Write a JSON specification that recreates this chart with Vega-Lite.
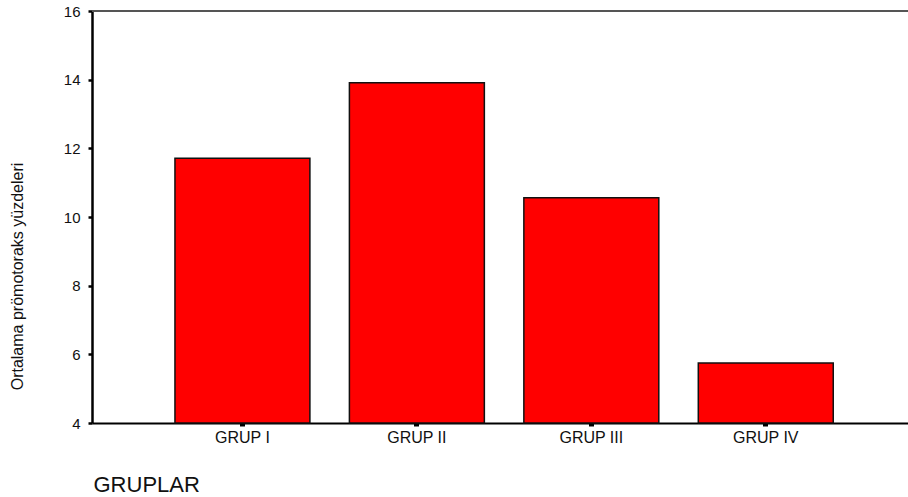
{
  "$schema": "https://vega.github.io/schema/vega-lite/v6.json",
  "width": 816,
  "height": 412,
  "autosize": {"type": "none"},
  "padding": {"left": 92, "top": 11, "right": 0, "bottom": 74},
  "background": "white",
  "config": {"view": {"stroke": null}, "font": "Liberation Sans"},
  "data": {
    "values": [
      {"grup": "GRUP I", "deger": 11.71},
      {"grup": "GRUP II", "deger": 13.91},
      {"grup": "GRUP III", "deger": 10.56},
      {"grup": "GRUP IV", "deger": 5.75}
    ]
  },
  "layer": [
    {
      "mark": {"type": "rule", "stroke": "#555", "strokeWidth": 2},
      "encoding": {"y": {"datum": 16}}
    },
    {
      "mark": {"type": "bar", "fill": "#ff0000", "stroke": "#111", "strokeWidth": 1.5},
      "encoding": {
        "x": {
          "field": "grup",
          "type": "nominal",
          "sort": null,
          "scale": {"paddingInner": 0.2264, "paddingOuter": 0.452, "align": 0.526},
          "axis": {
            "title": "GRUPLAR",
            "labelAngle": 0,
            "domainColor": "#000",
            "domainWidth": 2,
            "tickColor": "#000",
            "tickWidth": 5,
            "tickSize": 3,
            "labelPadding": 3,
            "labelFontSize": 16,
            "labelColor": "#111",
            "labelFont": "Liberation Sans",
            "titleFont": "Liberation Sans",
            "titleFontSize": 22,
            "titleFontWeight": "normal",
            "titleColor": "#111",
            "titleX": 1,
            "titleY": 68,
            "titleAlign": "left",
            "titleAnchor": "start",
            "titleBaseline": "alphabetic"
          }
        },
        "y": {
          "field": "deger",
          "type": "quantitative",
          "scale": {"domain": [4, 16], "zero": false, "nice": false},
          "axis": {
            "title": "Ortalama prömotoraks yüzdeleri",
            "values": [4, 6, 8, 10, 12, 14, 16],
            "grid": false,
            "domainColor": "#000",
            "domainWidth": 2.5,
            "tickColor": "#000",
            "tickWidth": 2.5,
            "tickSize": 4,
            "labelPadding": 8,
            "labelFontSize": 15,
            "labelColor": "#111",
            "labelFont": "Liberation Sans",
            "titleFont": "Liberation Sans",
            "titleFontSize": 16,
            "titleFontWeight": "normal",
            "titleColor": "#111",
            "titleX": -70,
            "titleY": 265,
            "titleAlign": "center",
            "titleBaseline": "alphabetic",
            "titleAngle": -90
          }
        },
        "y2": {"datum": 4}
      }
    }
  ]
}
